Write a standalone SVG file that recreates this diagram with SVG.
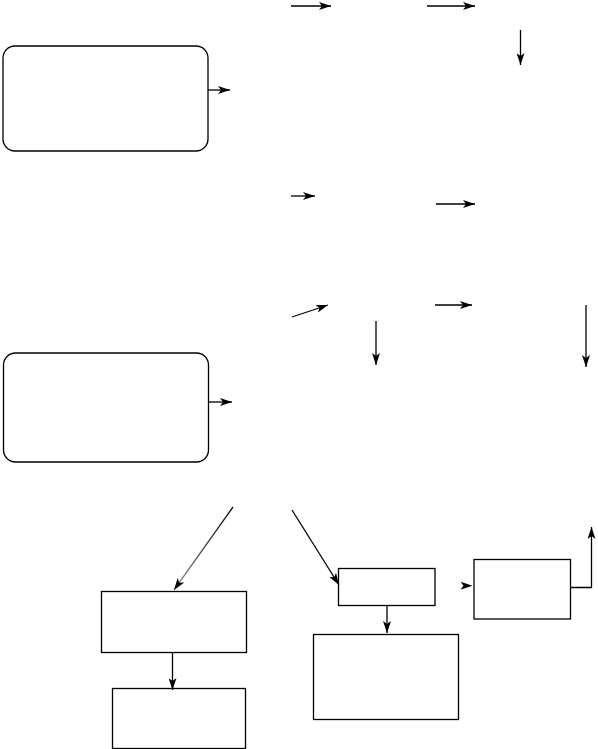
<svg xmlns="http://www.w3.org/2000/svg" width="598" height="749" viewBox="0 0 598 749">
<style>
.n{fill:#fff;stroke:#000;stroke-width:1.3}
.c{fill:none;stroke:#000;stroke-width:1.3;marker-end:url(#ah)}
</style>
<defs>
<marker id="ah" viewBox="0 0 12 8" refX="12" refY="4" markerWidth="12" markerHeight="8" markerUnits="userSpaceOnUse" orient="auto">
<path d="M0,0 L12,4 L0,8 L3,4 Z" fill="#000"/>
</marker>
<linearGradient id="fade" gradientUnits="userSpaceOnUse" x1="233" y1="507" x2="174" y2="590">
<stop offset="0" stop-color="#000"/>
<stop offset="1" stop-color="#999"/>
</linearGradient>
</defs>
<g id="node-r1"><rect class="n" x="3" y="46" width="205" height="105" rx="12"/></g>
<g id="node-r2"><rect class="n" x="3.5" y="353" width="205" height="109" rx="12"/></g>
<g id="node-b1"><rect class="n" x="101.5" y="591.5" width="145" height="61"/></g>
<g id="node-b2"><rect class="n" x="112.5" y="688.5" width="133" height="60"/></g>
<g id="node-b3"><rect class="n" x="338.5" y="568.5" width="96.5" height="37"/></g>
<g id="node-b4"><rect class="n" x="313.5" y="634.5" width="145" height="85"/></g>
<g id="node-b5"><rect class="n" x="474" y="559.5" width="96.5" height="59.5"/></g>
<g id="connectors">
<path class="c" d="M208,90 L230,90"/>
<path class="c" d="M291,6 L331,6"/>
<path class="c" d="M427,6 L475,6"/>
<path class="c" d="M520.5,30 L520.5,65"/>
<path class="c" d="M291,196 L315,196"/>
<path class="c" d="M436,204 L475,204"/>
<path class="c" d="M292,317 L328,305"/>
<path class="c" d="M435,305 L472,305"/>
<path class="c" d="M376,321 L376,365"/>
<path class="c" d="M586,305 L586,367"/>
<path class="c" d="M209,402 L232,402"/>
<path class="c" d="M233,507 L174,590" style="stroke:url(#fade)"/>
<path class="c" d="M172.5,652.5 L172.5,690"/>
<path class="c" d="M292,510 L339,585"/>
<path class="c" d="M387,605.5 L387,633"/>
<path class="c" d="M468,585.7 L472.5,585.7" style="stroke:none"/>
<path class="c" d="M570.5,587.5 L591.5,587.5 L591.5,527"/>
</g>
</svg>
